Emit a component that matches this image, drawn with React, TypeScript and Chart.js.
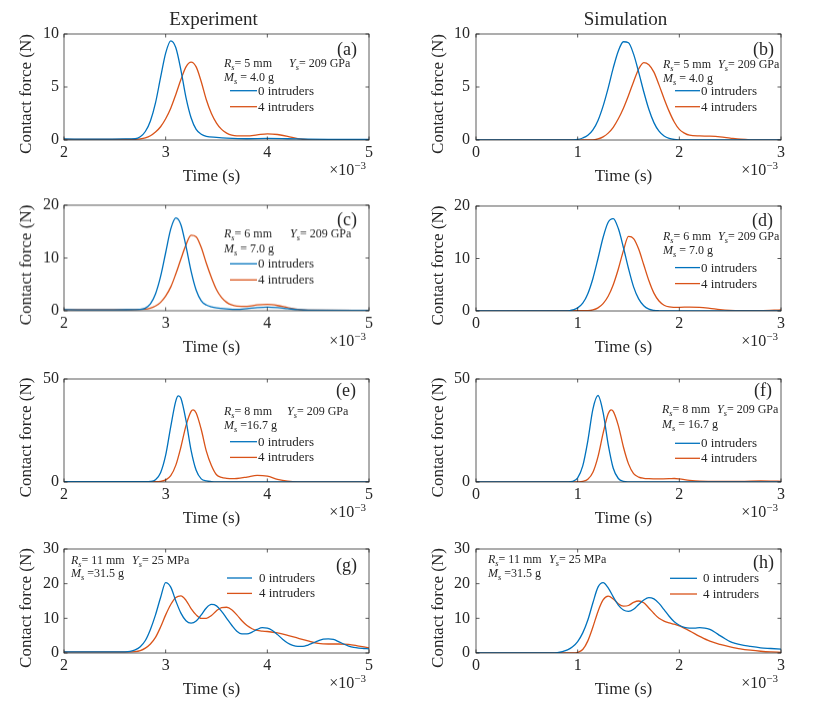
import React, { useEffect, useRef } from "react";
import { Chart, registerables } from "chart.js";

Chart.register(...registerables);

const SERIF = "'Liberation Serif', 'Times New Roman', Times, serif";
const BLUE = "#0072BD";
const ORANGE = "#D95319";
const INK = "#262626";

// ---------- data ----------
const seriesNames = ["0 intruders", "4 intruders"];
const xTicksExp = [2, 3, 4, 5];
const xTicksSim = [0, 1, 2, 3];
const yTicksR5 = [0, 5, 10];
const yTicksR6 = [0, 10, 20];
const yTicksR8 = [0, 50];
const yTicksR11 = [0, 10, 20, 30];

// (a) experiment, Rs = 5 mm  (time in ms)
const tA0 = [2.0, 2.3, 2.6, 2.7, 2.75, 2.8, 2.85, 2.9, 2.95, 3.0, 3.05, 3.1, 3.15, 3.2, 3.25, 3.3, 3.35, 3.4, 3.5, 3.6, 3.8, 4.0, 4.2, 4.4, 4.6, 5.0];
const fA0 = [0.1, 0.08, 0.1, 0.12, 0.3, 0.8, 1.8, 3.5, 5.9, 8.2, 9.35, 8.7, 6.6, 4.0, 2.1, 1.0, 0.55, 0.35, 0.25, 0.18, 0.12, 0.15, 0.12, 0.08, 0.06, 0.05];
const tA4 = [2.0, 2.5, 2.7, 2.75, 2.8, 2.85, 2.9, 2.95, 3.0, 3.05, 3.1, 3.15, 3.2, 3.25, 3.3, 3.35, 3.4, 3.45, 3.5, 3.55, 3.6, 3.65, 3.7, 3.8, 3.9, 4.0, 4.1, 4.2, 4.3, 4.4, 4.6, 5.0];
const fA4 = [0.05, 0.05, 0.06, 0.1, 0.2, 0.4, 0.75, 1.25, 2.0, 3.0, 4.3, 5.7, 6.9, 7.35, 6.9, 5.5, 3.8, 2.5, 1.6, 1.0, 0.65, 0.45, 0.38, 0.38, 0.48, 0.58, 0.52, 0.35, 0.12, 0.03, 0.0, 0.0];

// (b) simulation, Rs = 5 mm
const tB0 = [0, 0.9, 1.0, 1.05, 1.1, 1.15, 1.2, 1.25, 1.3, 1.35, 1.4, 1.45, 1.5, 1.55, 1.6, 1.65, 1.7, 1.75, 1.8, 1.85, 1.9, 1.95, 2.0, 2.2, 3.0];
const fB0 = [0, 0, 0.05, 0.19, 0.45, 0.96, 1.85, 3.2, 4.9, 6.8, 8.4, 9.27, 9.17, 8.1, 6.4, 4.55, 2.9, 1.64, 0.83, 0.38, 0.15, 0.05, 0.02, 0, 0];
const tB4 = [0, 1.15, 1.2, 1.25, 1.3, 1.35, 1.4, 1.45, 1.5, 1.55, 1.6, 1.65, 1.7, 1.75, 1.8, 1.85, 1.9, 1.95, 2.0, 2.05, 2.1, 2.2, 2.3, 2.4, 2.5, 2.6, 2.7, 3.0];
const fB4 = [0, 0, 0.1, 0.3, 0.65, 1.2, 2.0, 3.0, 4.2, 5.5, 6.7, 7.3, 7.1, 6.4, 5.2, 3.9, 2.7, 1.7, 1.0, 0.65, 0.45, 0.38, 0.36, 0.3, 0.18, 0.07, 0.02, 0];

// (c) experiment, Rs = 6 mm
const tC0 = [2.0, 2.4, 2.7, 2.75, 2.8, 2.85, 2.9, 2.95, 3.0, 3.05, 3.1, 3.15, 3.2, 3.25, 3.3, 3.35, 3.4, 3.45, 3.5, 3.6, 3.7, 3.8, 3.9, 4.0, 4.1, 4.2, 4.3, 4.4, 5.0];
const fC0 = [0.2, 0.15, 0.22, 0.25, 0.5, 1.3, 3.2, 6.5, 11.0, 15.5, 17.6, 16.3, 12.2, 7.5, 3.9, 1.9, 1.1, 0.75, 0.55, 0.35, 0.25, 0.4, 0.6, 0.7, 0.6, 0.4, 0.2, 0.1, 0.05];
const tC4 = [2.0, 2.5, 2.8, 2.85, 2.9, 2.95, 3.0, 3.05, 3.1, 3.15, 3.2, 3.25, 3.3, 3.35, 3.4, 3.45, 3.5, 3.55, 3.6, 3.65, 3.7, 3.8, 3.9, 4.0, 4.1, 4.2, 4.3, 4.4, 5.0];
const fC4 = [0.2, 0.2, 0.3, 0.5, 0.9, 1.6, 2.8, 4.5, 7.0, 9.8, 12.5, 14.3, 14.0, 12.0, 9.0, 6.3, 4.0, 2.5, 1.6, 1.1, 0.9, 0.85, 1.1, 1.2, 1.0, 0.6, 0.25, 0.1, 0.05];

// (d) simulation, Rs = 6 mm
const tD0 = [0, 0.9, 0.95, 1.0, 1.05, 1.1, 1.15, 1.2, 1.25, 1.3, 1.35, 1.4, 1.45, 1.5, 1.55, 1.6, 1.65, 1.7, 1.75, 1.8, 1.9, 3.0];
const fD0 = [0, 0, 0.2, 0.6, 1.5, 3.3, 6.2, 10.0, 14.0, 16.9, 17.6, 15.7, 12.1, 8.1, 4.6, 2.3, 1.0, 0.36, 0.12, 0.04, 0, 0];
const tD4 = [0, 1.1, 1.15, 1.2, 1.25, 1.3, 1.35, 1.4, 1.45, 1.5, 1.55, 1.6, 1.65, 1.7, 1.75, 1.8, 1.85, 1.9, 2.0, 2.1, 2.2, 2.3, 2.4, 2.5, 2.6, 2.8, 3.0];
const fD4 = [0, 0.05, 0.2, 0.6, 1.4, 2.8, 5.0, 8.0, 11.5, 14.2, 13.8, 11.8, 8.8, 5.8, 3.4, 1.9, 1.1, 0.8, 0.7, 0.75, 0.7, 0.5, 0.25, 0.1, 0.05, 0.05, 0.2];

// (e) experiment, Rs = 8 mm
const tE0 = [2.0, 2.5, 2.8, 2.85, 2.9, 2.95, 3.0, 3.05, 3.1, 3.125, 3.15, 3.2, 3.25, 3.3, 3.35, 3.4, 3.45, 3.5, 3.7, 4.0, 5.0];
const fE0 = [0.2, 0.2, 0.2, 0.3, 1.1, 4.5, 13, 26.9, 39.4, 41.8, 40.7, 29.9, 15.4, 5.7, 1.5, 0.5, 0.2, 0.1, 0.1, 0.1, 0.1];
const tE4 = [2.0, 2.5, 2.9, 2.95, 3.0, 3.05, 3.1, 3.15, 3.2, 3.25, 3.27, 3.3, 3.35, 3.4, 3.45, 3.5, 3.55, 3.6, 3.65, 3.7, 3.8, 3.9, 4.0, 4.1, 4.2, 4.3, 4.5, 5.0];
const fE4 = [0.2, 0.2, 0.2, 0.3, 1.0, 3.1, 8.2, 17, 27.4, 34.3, 35, 33.5, 25.5, 15, 8, 3.5, 2.2, 1.8, 1.6, 1.7, 2.4, 3.2, 2.8, 1.3, 0.4, 0.1, 0.1, 0.1];

// (f) simulation, Rs = 8 mm
const tF0 = [0, 0.85, 0.9, 0.95, 1.0, 1.05, 1.1, 1.15, 1.2, 1.25, 1.3, 1.35, 1.4, 1.45, 1.5, 1.6, 3.0];
const fF0 = [0, 0, 0.05, 0.35, 2.0, 7.8, 20, 35.4, 42, 33.8, 18.3, 6.7, 1.7, 0.3, 0.05, 0, 0];
const tF4 = [0, 0.95, 1.0, 1.05, 1.1, 1.15, 1.2, 1.25, 1.3, 1.33, 1.35, 1.4, 1.45, 1.5, 1.55, 1.6, 1.65, 1.7, 1.8, 1.9, 1.95, 2.0, 2.1, 2.2, 2.4, 2.6, 2.8, 2.9, 3.0];
const fF4 = [0, 0, 0.05, 0.3, 1.3, 4.7, 12.3, 23.6, 33.1, 35, 34.3, 27.4, 17, 8.8, 4.1, 2.4, 1.8, 1.6, 1.5, 1.6, 1.7, 1.5, 0.8, 0.4, 0.3, 0.3, 0.5, 0.45, 0.35];

// (g) experiment, Rs = 11 mm
const tG0 = [2.0, 2.5, 2.6, 2.65, 2.7, 2.75, 2.8, 2.85, 2.9, 2.95, 3.0, 3.05, 3.1, 3.15, 3.2, 3.25, 3.3, 3.35, 3.4, 3.45, 3.5, 3.55, 3.6, 3.65, 3.7, 3.75, 3.8, 3.85, 3.9, 3.95, 4.0, 4.05, 4.1, 4.15, 4.2, 4.25, 4.3, 4.35, 4.4, 4.45, 4.5, 4.55, 4.6, 4.65, 4.7, 4.75, 4.8, 4.85, 4.9, 4.95, 5.0];
const fG0 = [0.3, 0.3, 0.35, 0.5, 0.9, 1.8, 3.6, 6.8, 11.0, 16.0, 20.3, 19.0, 15.0, 11.5, 9.3, 8.6, 9.2, 11.0, 13.0, 14.0, 13.6, 12.0, 10.0, 8.0, 6.3, 5.5, 5.5, 6.0, 6.8, 7.3, 7.2, 6.5, 5.3, 4.0, 2.9, 2.2, 1.9, 1.9, 2.3, 2.9, 3.5, 4.0, 4.1, 3.9, 3.3, 2.6, 2.0, 1.6, 1.4, 1.3, 1.2];
const tG4 = [2.0, 2.6, 2.7, 2.75, 2.8, 2.85, 2.9, 2.95, 3.0, 3.05, 3.1, 3.15, 3.2, 3.25, 3.3, 3.35, 3.4, 3.45, 3.5, 3.55, 3.6, 3.65, 3.7, 3.75, 3.8, 3.85, 3.9, 3.95, 4.0, 4.1, 4.2, 4.3, 4.4, 4.5, 4.6, 4.7, 4.8, 4.9, 5.0];
const fG4 = [0.3, 0.3, 0.4, 0.7, 1.4, 2.6, 4.5, 7.5, 11.0, 14.0, 16.0, 16.5, 15.2, 12.8, 11.0, 10.0, 10.0, 10.8, 12.2, 13.1, 13.2, 12.5, 11.0, 9.3, 7.9, 7.0, 6.5, 6.3, 6.2, 5.8, 5.1, 4.3, 3.5, 2.8, 2.6, 2.6, 2.5, 2.0, 1.5];

// (h) simulation, Rs = 11 mm
const tH0 = [0, 0.75, 0.8, 0.85, 0.9, 0.95, 1.0, 1.05, 1.1, 1.15, 1.2, 1.25, 1.3, 1.35, 1.4, 1.45, 1.5, 1.55, 1.6, 1.65, 1.7, 1.75, 1.8, 1.85, 1.9, 1.95, 2.0, 2.05, 2.1, 2.15, 2.2, 2.25, 2.3, 2.35, 2.4, 2.45, 2.5, 2.55, 2.6, 2.7, 2.8, 2.9, 3.0];
const fH0 = [0, 0, 0.1, 0.4, 0.9, 1.8, 3.3, 5.8, 9.5, 14.5, 19.0, 20.3, 18.8, 16.2, 13.8, 12.4, 12.0, 12.6, 14.0, 15.3, 16.0, 15.6, 14.3, 12.5, 10.6, 9.0, 8.0, 7.4, 7.2, 7.2, 7.3, 7.2, 6.8, 6.0, 5.0, 4.1, 3.3, 2.8, 2.4, 1.9, 1.5, 1.3, 1.1];
const tH4 = [0, 0.95, 1.0, 1.05, 1.1, 1.15, 1.2, 1.25, 1.3, 1.35, 1.4, 1.45, 1.5, 1.55, 1.6, 1.65, 1.7, 1.75, 1.8, 1.85, 1.9, 1.95, 2.0, 2.1, 2.2, 2.3, 2.4, 2.5, 2.6, 2.7, 2.8, 2.9, 3.0];
const fH4 = [0, 0, 0.2, 1.0, 3.5, 7.5, 12.0, 15.3, 16.4, 15.6, 14.2, 13.5, 13.7, 14.6, 15.0, 14.5, 13.0, 11.4, 10.0, 9.2, 8.7, 8.3, 7.8, 6.4, 4.8, 3.4, 2.5, 1.8, 1.2, 0.8, 0.5, 0.3, 0.2];

// ---------- annotation texts ----------
type Seg = { t: string; it?: boolean; sub?: boolean };
const rText = (v: string): Seg[] => [{ t: "R", it: true }, { t: "s", it: true, sub: true }, { t: `= ${v} mm` }];
const yText = (v: string): Seg[] => [{ t: "Y", it: true }, { t: "s", it: true, sub: true }, { t: `= ${v}` }];
const mText = (v: string): Seg[] => [{ t: "M", it: true }, { t: "s", it: true, sub: true }, { t: v }];

// ---------- layout ----------
const COLS = [
  { canvasLeft: 0, canvasWidth: 405, plotLeft: 64, plotRight: 369 },
  { canvasLeft: 410, canvasWidth: 407, plotLeft: 476, plotRight: 781 },
];
const PAD_TOP = 34;
const X_AXIS_H = 50;

type Panel = {
  id: string;
  tag: string;
  col: 0 | 1;
  plotTop: number;
  plotBottom: number;
  title?: string;
  xTicks: number[];
  yTicks: number[];
  t0: number[]; f0: number[]; t4: number[]; f4: number[];
  rLine: Seg[]; yLine: Seg[]; mLine: Seg[];
  rPos: [number, number]; yPos: [number, number]; mPos: [number, number];
  legLine: [number, number]; legText: number; legY: [number, number];
  tagInset: number; tagDy: number;
};

const PANELS: Panel[] = [
  {
    id: "a", tag: "(a)", col: 0, plotTop: 34, plotBottom: 140, title: "Experiment",
    xTicks: xTicksExp, yTicks: yTicksR5, t0: tA0, f0: fA0, t4: tA4, f4: fA4,
    rLine: rText("5"), yLine: yText("209 GPa"), mLine: mText(" = 4.0 g"),
    rPos: [160, 33], yPos: [225, 33], mPos: [160, 47],
    legLine: [166, 193], legText: 194, legY: [56.7, 72.7], tagInset: 12, tagDy: 16,
  },
  {
    id: "b", tag: "(b)", col: 1, plotTop: 34, plotBottom: 140, title: "Simulation",
    xTicks: xTicksSim, yTicks: yTicksR5, t0: tB0, f0: fB0, t4: tB4, f4: fB4,
    rLine: rText("5"), yLine: yText("209 GPa"), mLine: mText(" = 4.0 g"),
    rPos: [187, 34], yPos: [242, 34], mPos: [187, 48],
    legLine: [199, 224], legText: 225, legY: [56.7, 72.7], tagInset: 7, tagDy: 16,
  },
  {
    id: "c", tag: "(c)", col: 0, plotTop: 205, plotBottom: 310.5,
    xTicks: xTicksExp, yTicks: yTicksR6, t0: tC0, f0: fC0, t4: tC4, f4: fC4,
    rLine: rText("6"), yLine: yText("209 GPa"), mLine: mText(" = 7.0 g"),
    rPos: [160, 32], yPos: [226, 32], mPos: [160, 47],
    legLine: [166, 193], legText: 194, legY: [58.3, 74.3], tagInset: 12, tagDy: 15,
  },
  {
    id: "d", tag: "(d)", col: 1, plotTop: 205.5, plotBottom: 310.5,
    xTicks: xTicksSim, yTicks: yTicksR6, t0: tD0, f0: fD0, t4: tD4, f4: fD4,
    rLine: rText("6"), yLine: yText("209 GPa"), mLine: mText(" = 7.0 g"),
    rPos: [187, 34], yPos: [242, 34], mPos: [187, 48],
    legLine: [199, 224], legText: 225, legY: [61.6, 77.6], tagInset: 8, tagDy: 15,
  },
  {
    id: "e", tag: "(e)", col: 0, plotTop: 378.5, plotBottom: 482,
    xTicks: xTicksExp, yTicks: yTicksR8, t0: tE0, f0: fE0, t4: tE4, f4: fE4,
    rLine: rText("8"), yLine: yText("209 GPa"), mLine: mText(" =16.7 g"),
    rPos: [160, 36], yPos: [223, 36], mPos: [160, 50],
    legLine: [166, 193], legText: 194, legY: [62.7, 78.4], tagInset: 13, tagDy: 12,
  },
  {
    id: "f", tag: "(f)", col: 1, plotTop: 379, plotBottom: 482,
    xTicks: xTicksSim, yTicks: yTicksR8, t0: tF0, f0: fF0, t4: tF4, f4: fF4,
    rLine: rText("8"), yLine: yText("209 GPa"), mLine: mText(" = 16.7 g"),
    rPos: [186, 34], yPos: [241, 34], mPos: [186, 49],
    legLine: [199, 224], legText: 225, legY: [64.3, 79.3], tagInset: 9, tagDy: 12,
  },
  {
    id: "g", tag: "(g)", col: 0, plotTop: 548.5, plotBottom: 653,
    xTicks: xTicksExp, yTicks: yTicksR11, t0: tG0, f0: fG0, t4: tG4, f4: fG4,
    rLine: rText("11"), yLine: yText("25 MPa"), mLine: mText(" =31.5 g"),
    rPos: [7, 15], yPos: [68, 15], mPos: [7, 28],
    legLine: [163, 188], legText: 195, legY: [29, 44.4], tagInset: 12, tagDy: 17,
  },
  {
    id: "h", tag: "(h)", col: 1, plotTop: 549, plotBottom: 653,
    xTicks: xTicksSim, yTicks: yTicksR11, t0: tH0, f0: fH0, t4: tH4, f4: fH4,
    rLine: rText("11"), yLine: yText("25 MPa"), mLine: mText(" =31.5 g"),
    rPos: [12, 14], yPos: [73, 14], mPos: [12, 28],
    legLine: [194, 221], legText: 227, legY: [29.3, 45], tagInset: 7, tagDy: 14.5,
  },
];

function drawSegs(ctx: CanvasRenderingContext2D, x: number, y: number, segs: Seg[], size: number) {
  let cx = x;
  for (const s of segs) {
    const fs = s.sub ? size * 0.7 : size;
    ctx.font = `${s.it ? "italic " : ""}${fs}px ${SERIF}`;
    ctx.fillText(s.t, cx, y + (s.sub ? size * 0.28 : 0));
    cx += ctx.measureText(s.t).width;
  }
}

function makeDecor(p: Panel) {
  return {
    id: "decor_" + p.id,
    afterDraw(chart: any) {
      const { ctx, chartArea: a, scales } = chart;
      const xs = scales.x;
      const ys = scales.y;
      ctx.save();
      // box and inward ticks on all four sides
      ctx.strokeStyle = INK;
      ctx.lineWidth = 0.75;
      ctx.strokeRect(a.left, a.top, a.right - a.left, a.bottom - a.top);
      const TL = 3.5;
      ctx.beginPath();
      p.xTicks.forEach((v) => {
        const px = xs.getPixelForValue(v);
        ctx.moveTo(px, a.bottom);
        ctx.lineTo(px, a.bottom - TL);
        ctx.moveTo(px, a.top);
        ctx.lineTo(px, a.top + TL);
      });
      p.yTicks.forEach((v) => {
        const py = ys.getPixelForValue(v);
        ctx.moveTo(a.left, py);
        ctx.lineTo(a.left + TL, py);
        ctx.moveTo(a.right, py);
        ctx.lineTo(a.right - TL, py);
      });
      ctx.stroke();

      ctx.fillStyle = INK;
      const cx = (a.left + a.right) / 2;
      // x axis title
      ctx.textAlign = "center";
      ctx.textBaseline = "alphabetic";
      ctx.font = `17px ${SERIF}`;
      ctx.fillText("Time (s)", cx - 5, a.bottom + 41);
      // exponent multiplier
      ctx.textAlign = "left";
      ctx.font = `11px ${SERIF}`;
      const supW = ctx.measureText("\u22123").width;
      ctx.font = `16px ${SERIF}`;
      const baseW = ctx.measureText("\u00d710").width;
      const xEnd = a.right - 3;
      ctx.fillText("\u00d710", xEnd - supW - baseW, a.bottom + 35);
      ctx.font = `11px ${SERIF}`;
      ctx.fillText("\u22123", xEnd - supW, a.bottom + 28.5);
      // y axis title
      ctx.save();
      ctx.translate(a.left - 37, (a.top + a.bottom) / 2 + 7);
      ctx.rotate(-Math.PI / 2);
      ctx.textAlign = "center";
      ctx.textBaseline = "middle";
      ctx.font = `17px ${SERIF}`;
      ctx.fillText("Contact force (N)", 0, 0);
      ctx.restore();
      // column title
      if (p.title) {
        ctx.textAlign = "center";
        ctx.textBaseline = "alphabetic";
        ctx.font = `19px ${SERIF}`;
        ctx.fillText(p.title, cx - 3, a.top - 9);
      }
      // panel tag
      ctx.textAlign = "right";
      ctx.textBaseline = "middle";
      ctx.font = `18px ${SERIF}`;
      ctx.fillText(p.tag, a.right - p.tagInset, a.top + p.tagDy);
      // parameter annotations
      ctx.textAlign = "left";
      ctx.textBaseline = "alphabetic";
      drawSegs(ctx, a.left + p.rPos[0], a.top + p.rPos[1], p.rLine, 12);
      drawSegs(ctx, a.left + p.yPos[0], a.top + p.yPos[1], p.yLine, 12);
      drawSegs(ctx, a.left + p.mPos[0], a.top + p.mPos[1], p.mLine, 12);
      // legend
      chart.data.datasets.forEach((ds: any, i: number) => {
        const y = a.top + p.legY[i];
        ctx.strokeStyle = ds.borderColor;
        ctx.lineWidth = 1.3;
        ctx.beginPath();
        ctx.moveTo(a.left + p.legLine[0], y);
        ctx.lineTo(a.left + p.legLine[1], y);
        ctx.stroke();
        ctx.fillStyle = INK;
        ctx.font = `13px ${SERIF}`;
        ctx.textBaseline = "middle";
        ctx.fillText(ds.label, a.left + p.legText, y + 0.5);
      });
      ctx.restore();
    },
  };
}

function PanelChart({ p }: { p: Panel }) {
  const ref = useRef<HTMLCanvasElement>(null);
  const col = COLS[p.col];
  const top = p.plotTop - PAD_TOP;
  const height = p.plotBottom - p.plotTop + PAD_TOP + X_AXIS_H;
  const width = col.canvasWidth;

  useEffect(() => {
    if (!ref.current) return;
    const toPts = (t: number[], f: number[]) => t.map((x, i) => ({ x, y: f[i] }));
    const chart = new Chart(ref.current, {
      type: "line",
      data: {
        datasets: [
          { label: seriesNames[0], data: toPts(p.t0, p.f0), borderColor: BLUE, borderWidth: 1.3, pointRadius: 0, fill: false, cubicInterpolationMode: "monotone" },
          { label: seriesNames[1], data: toPts(p.t4, p.f4), borderColor: ORANGE, borderWidth: 1.3, pointRadius: 0, fill: false, cubicInterpolationMode: "monotone" },
        ],
      },
      options: {
        responsive: false,
        animation: false,
        events: [],
        layout: {
          padding: { top: PAD_TOP, right: col.canvasLeft + col.canvasWidth - col.plotRight, left: 0, bottom: 0 },
        },
        plugins: { legend: { display: false }, tooltip: { enabled: false }, title: { display: false } },
        scales: {
          x: {
            type: "linear",
            min: p.xTicks[0],
            max: p.xTicks[p.xTicks.length - 1],
            grid: { display: false, drawTicks: false },
            border: { display: false },
            ticks: { font: { family: SERIF, size: 16 }, color: INK, padding: 3, maxRotation: 0, autoSkip: false },
            afterBuildTicks: (s: any) => { s.ticks = p.xTicks.map((v) => ({ value: v })); },
            afterFit: (s: any) => { s.height = X_AXIS_H; },
          },
          y: {
            type: "linear",
            min: p.yTicks[0],
            max: p.yTicks[p.yTicks.length - 1],
            grid: { display: false, drawTicks: false },
            border: { display: false },
            ticks: { font: { family: SERIF, size: 16 }, color: INK, padding: p.col === 0 ? 5 : 6, autoSkip: false },
            afterBuildTicks: (s: any) => { s.ticks = p.yTicks.map((v) => ({ value: v })); },
            afterFit: (s: any) => { s.width = col.plotLeft - col.canvasLeft; },
          },
        },
      } as any,
      plugins: [makeDecor(p)],
    });
    return () => chart.destroy();
  }, []);

  return (
    <canvas
      ref={ref}
      width={width}
      height={height}
      style={{ position: "absolute", left: col.canvasLeft, top, width, height }}
    />
  );
}

export default function App() {
  return (
    <div style={{ position: "absolute", left: 0, top: 0, width: 817, height: 717, background: "#fff", overflow: "hidden" }}>
      {PANELS.map((p) => (
        <PanelChart key={p.id} p={p} />
      ))}
    </div>
  );
}
